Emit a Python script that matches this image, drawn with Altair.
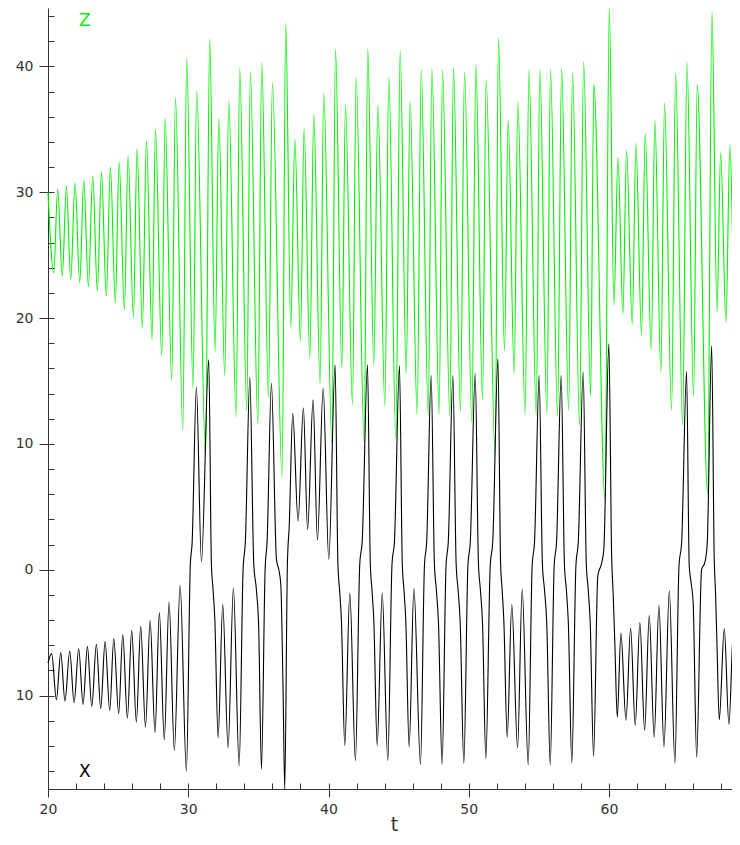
import altair as alt
import pandas as pd

# ---- X(t) series: extrema and shoulder points ----
x_t = [20.0, 20.26, 20.6, 20.91, 21.21, 21.55, 21.86, 22.19, 22.5, 22.81, 23.12, 23.45, 23.76,
       24.07, 24.4, 24.69, 25.04, 25.33, 25.66, 25.97, 26.3, 26.61, 26.95, 27.28, 27.63, 27.94,
       28.29, 28.63, 29.01, 29.42, 29.87, 30.15, 30.27, 30.58, 30.94, 31.46, 31.65, 31.77, 31.89,
       32.13, 32.46, 32.84, 33.22, 33.63, 33.91, 34.07, 34.39, 34.67, 34.86, 35.02, 35.22, 35.48,
       35.62, 35.93, 36.29, 36.46, 36.6, 36.76, 36.88, 37.07, 37.2, 37.45, 37.83, 38.21, 38.51,
       38.9, 39.21, 39.62, 40.02, 40.47, 40.67, 40.79, 40.92, 41.16, 41.52, 41.92, 42.23, 42.4,
       42.78, 42.98, 43.1, 43.23, 43.47, 43.83, 44.23, 44.53, 44.7, 45.06, 45.26, 45.38, 45.51,
       45.75, 46.09, 46.56, 46.84, 47.0, 47.32, 47.55, 47.69, 47.84, 48.1, 48.38, 48.54, 48.87,
       49.1, 49.24, 49.39, 49.65, 49.94, 50.11, 50.46, 50.69, 50.83, 50.98, 51.22, 51.53, 51.71,
       52.08, 52.27, 52.38, 52.5, 52.74, 53.07, 53.48, 53.81, 54.24, 54.52, 54.69, 55.02, 55.25,
       55.4, 55.56, 55.81, 56.09, 56.26, 56.59, 56.82, 56.96, 57.1, 57.35, 57.64, 57.81, 58.16,
       58.38, 58.52, 58.66, 58.9, 59.2, 59.47, 59.63, 59.99, 60.19, 60.3, 60.42, 60.59, 60.85,
       61.21, 61.54, 61.87, 62.2, 62.54, 62.87, 63.22, 63.56, 63.92, 64.3, 64.7, 64.99, 65.18,
       65.53, 65.72, 65.85, 66.0, 66.25, 66.6, 66.84, 67.0, 67.32, 67.5, 67.6, 67.7, 67.86,
       68.22, 68.55, 68.89, 69.22, 69.34]
x_v = [-7.4, -6.67, -10.33, -6.59, -10.45, -6.46, -10.57, -6.28, -10.71, -6.09, -10.87, -5.93, -11.05,
       -5.69, -11.19, -5.48, -11.45, -5.16, -11.8, -4.82, -12.12, -4.5, -12.51, -4.02, -12.96, -3.41,
       -13.52, -2.56, -14.37, -1.23, -16.02, 0.5, 2.0, 14.5, 0.62, 16.68, 0.5, -1.6, -3.8,
       -13.36, -2.75, -14.16, -1.45, -15.57, 0.0, 2.2, 15.27, 0.5, -1.6, -4.5, -15.83, 0.0,
       2.2, 14.82, 0.8, 0.0, -1.2, -9.5, -17.42, 0.5, 3.5, 12.43, 3.86, 12.88, 3.2,
       13.5, 2.35, 14.43, 0.81, 16.28, 0.5, -1.6, -4.0, -13.97, -1.85, -15.17, 0.5, 2.2,
       16.28, 0.5, -1.6, -4.0, -13.97, -1.85, -15.17, 0.5, 2.2, 16.2, 0.5, -1.6, -4.0,
       -14.1, -1.5, -15.49, 0.3, 2.2, 15.43, 0.5, -1.6, -4.2, -15.49, 0.3, 2.2, 15.43,
       0.5, -1.6, -4.2, -15.38, 0.3, 2.2, 15.62, 0.5, -1.6, -4.2, -15.03, 0.3, 2.2,
       16.74, 0.5, -1.6, -4.0, -13.31, -2.77, -14.16, -1.55, -15.51, 0.3, 2.2, 15.43, 0.5,
       -1.6, -4.2, -15.51, 0.3, 2.2, 15.43, 0.5, -1.6, -4.2, -15.35, 0.3, 2.2, 15.72,
       0.5, -1.6, -4.2, -14.85, -0.5, 0.5, 1.6, 17.95, 1.0, -2.0, -6.0, -11.72, -5.03,
       -11.98, -4.63, -12.38, -4.2, -12.78, -3.62, -13.31, -2.85, -14.1, -1.69, -15.38, 0.3, 2.2,
       15.75, 0.3, -1.0, -2.6, -14.9, 0.0, 0.6, 2.0, 17.8, 1.0, -2.0, -6.0, -11.93,
       -4.68, -12.3, -4.29, -12.65, -11.0]

# ---- Z(t) series: peaks and troughs ----
z_t = [20.0, 20.41, 20.69, 21.02, 21.31, 21.62, 21.93, 22.26, 22.55, 22.88, 23.19, 23.52, 23.81,
       24.16, 24.45, 24.8, 25.07, 25.45, 25.71, 26.09, 26.35, 26.73, 27.02, 27.42, 27.66, 28.11,
       28.35, 28.82, 29.09, 29.61, 29.89, 30.34, 30.6, 31.23, 31.53, 31.91, 32.18, 32.6, 32.89,
       33.41, 33.67, 34.17, 34.43, 34.96, 35.24, 35.72, 36.0, 36.69, 36.95, 37.31, 37.6, 38.0,
       38.26, 38.67, 38.95, 39.4, 39.66, 40.24, 40.5, 40.95, 41.21, 41.71, 41.97, 42.54, 42.8,
       43.23, 43.52, 44.02, 44.3, 44.8, 45.11, 45.54, 45.82, 46.32, 46.61, 47.11, 47.37, 47.89,
       48.13, 48.65, 48.91, 49.41, 49.7, 50.22, 50.51, 50.98, 51.24, 51.88, 52.12, 52.55, 52.81,
       53.24, 53.5, 54.02, 54.29, 54.81, 55.07, 55.57, 55.83, 56.33, 56.62, 57.12, 57.4, 57.9,
       58.19, 58.69, 58.92, 59.71, 60.02, 60.35, 60.64, 60.99, 61.25, 61.66, 61.92, 62.32, 62.58,
       63.01, 63.27, 63.7, 63.96, 64.46, 64.75, 65.25, 65.56, 66.03, 66.29, 67.03, 67.34, 67.7,
       67.96, 68.34, 68.62, 69.0, 69.26]
z_v = [30.0, 23.6, 30.26, 23.33, 30.5, 23.07, 30.74, 22.8, 30.98, 22.48, 31.3, 22.14, 31.62,
       21.74, 32.01, 21.21, 32.41, 20.68, 32.91, 20.05, 33.45, 19.25, 34.11, 18.3, 34.96, 16.99,
       35.9, 15.05, 37.56, 11.07, 40.67, 14.4, 38.09, 9.08, 42.2, 17.3, 35.84, 15.45, 37.27,
       12.13, 39.87, 12.61, 39.52, 11.55, 40.32, 13.68, 38.68, 7.36, 43.45, 19.25, 34.22, 18.18,
       35.09, 16.83, 36.21, 14.79, 37.88, 10.14, 41.38, 15.99, 36.93, 13.12, 39.16, 10.14, 41.38,
       16.25, 36.93, 13.01, 39.16, 10.41, 41.25, 15.59, 37.21, 12.32, 39.74, 12.27, 39.79, 12.35,
       39.74, 12.19, 39.87, 12.59, 39.6, 11.74, 40.19, 13.46, 38.94, 9.08, 42.26, 17.39, 35.76,
       15.59, 37.17, 12.32, 39.74, 12.27, 39.79, 12.4, 39.74, 12.19, 39.87, 12.67, 39.52, 11.47,
       40.4, 13.86, 38.54, 5.64, 44.65, 21.03, 32.76, 20.31, 33.29, 19.51, 33.9, 18.64, 34.7,
       17.44, 35.7, 15.72, 37.09, 12.67, 39.47, 11.47, 40.35, 13.8, 38.54, 6.08, 44.3, 20.49,
       33.15, 19.7, 33.77, 18.85, 34.56]

# ---- axes / labels ----
t_domain = [20, 69.34]
y_domain = [-17.43, 44.65]
t_major = [20, 30, 40, 50, 60]
t_minor = list(range(20, 70, 2))
y_major = [-10, 0, 10, 20, 30, 40]
y_minor = list(range(-16, 45, 2))
label_t = [22.62, 22.62]
label_v = [43.58, -16.1]
label_text = ["Z", "X"]

GREEN = "#00f000"
AX = "#333333"
FONT = "DejaVu Sans"

dfx = pd.DataFrame({"t": x_t, "v": x_v})
dfz = pd.DataFrame({"t": z_t, "v": z_v})
dfl = pd.DataFrame({"t": label_t, "v": label_v, "s": label_text, "c": [GREEN, "#000000"]})

xs = alt.Scale(domain=t_domain, nice=False, zero=False)
ys = alt.Scale(domain=y_domain, nice=False, zero=False)

x_axis_main = alt.Axis(values=t_major, orient="bottom", format="d", tickSize=8, tickColor=AX,
                       domainColor=AX, labelFont=FONT, labelFontSize=14, labelColor=AX,
                       labelPadding=5, labelFlush=False, grid=False, title="t", titleFont=FONT,
                       titleFontSize=19, titleFontWeight="normal", titleColor=AX,
                       titleY=41, titleBaseline="alphabetic")
y_axis_main = alt.Axis(values=y_major, orient="left", tickSize=9, tickColor=AX, domainColor=AX,
                       labelFont=FONT, labelFontSize=14, labelColor=AX, labelPadding=6,
                       labelExpr="format(abs(datum.value), 'd')", grid=False, title=None)

x_axis_minor = alt.Axis(values=t_minor, orient="bottom", offset=-6, tickSize=6, tickColor=AX,
                        domain=False, labels=False, grid=False, title=None)
y_axis_minor = alt.Axis(values=y_minor, orient="left", offset=-6, tickSize=6, tickColor=AX,
                        domain=False, labels=False, grid=False, title=None)

enc_x = alt.X("t:Q", scale=xs, axis=x_axis_main)
enc_y = alt.Y("v:Q", scale=ys, axis=y_axis_main)

z_line = alt.Chart(dfz).mark_line(color=GREEN, strokeWidth=1.1, interpolate="monotone").encode(
    x=enc_x, y=enc_y)
x_line = alt.Chart(dfx).mark_line(color="#000000", strokeWidth=1.1, interpolate="monotone").encode(
    x=enc_x, y=enc_y)
labels = alt.Chart(dfl).mark_text(font=FONT, fontSize=17, align="center", baseline="middle").encode(
    x=enc_x, y=enc_y, text="s:N", color=alt.Color("c:N", scale=None))

main = alt.layer(z_line, x_line, labels)

minor = alt.Chart(dfx).mark_line(strokeOpacity=0).encode(
    x=alt.X("t:Q", scale=alt.Scale(domain=t_domain, nice=False, zero=False), axis=x_axis_minor),
    y=alt.Y("v:Q", scale=alt.Scale(domain=y_domain, nice=False, zero=False), axis=y_axis_minor))

chart = alt.layer(main, minor).resolve_scale(x="independent", y="independent").properties(
    width=692, height=781,
    padding={"left": 40, "top": 0, "right": -8, "bottom": 44},
    autosize=alt.AutoSizeParams(type="none"),
).configure_view(stroke=None)

chart.save("out.html", embed_options={"renderer": "svg", "actions": False})
